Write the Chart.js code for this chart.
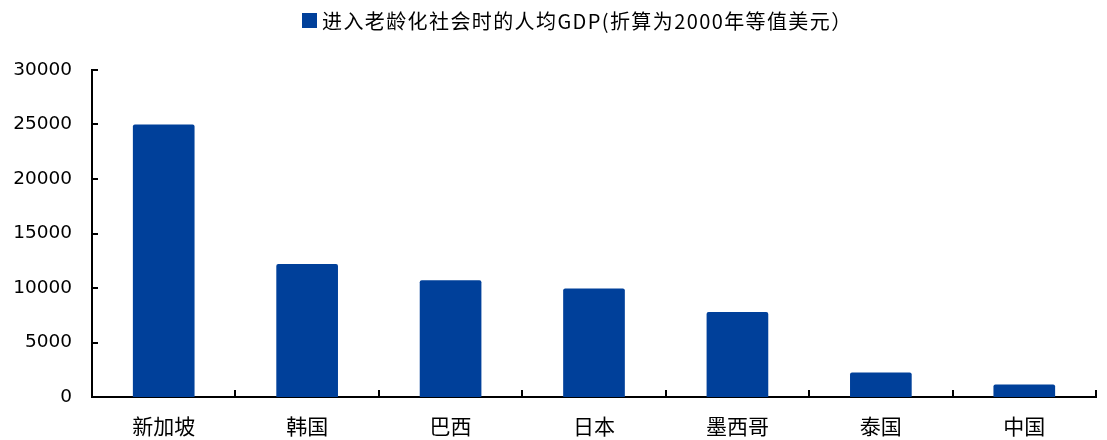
<!DOCTYPE html>
<html><head><meta charset="utf-8">
<script src="https://cdn.jsdelivr.net/npm/chart.js@4/dist/chart.umd.min.js"></script>
<style>
html,body{margin:0;padding:0;background:#fff;}
#wrap{width:1107px;height:440px;}
</style>
</head><body>
<div id="wrap"><canvas id="c"></canvas></div>
<script>
// Per-capita GDP when each country became an ageing society (constant 2000 USD)
const countries = ['新加坡', '韩国', '巴西', '日本', '墨西哥', '泰国', '中国'];
const gdpPerCapita = [25000, 12200, 10700, 9950, 7800, 2250, 1150];
const yTicks = [0, 5000, 10000, 15000, 20000, 25000, 30000];
const seriesName = '进入老龄化社会时的人均GDP(折算为2000年等值美元）';
const barColor = '#00409A';

// Short tick marks pointing into the plot, plus a hand-placed legend line
const innerTicks = {
  id: 'innerTicks',
  afterDraw(chart) {
    const ctx = chart.ctx;
    const a = chart.chartArea;
    const y = chart.scales.y;
    ctx.save();
    ctx.strokeStyle = '#000';
    ctx.lineWidth = 2;
    ctx.beginPath();
    y.ticks.forEach(t => {
      const py = Math.round(y.getPixelForValue(t.value));
      ctx.moveTo(a.left, py);
      ctx.lineTo(a.left + 6, py);
    });
    const n = countries.length;
    const w = (a.right - a.left) / n;
    for (let i = 1; i <= n; i++) {
      const px = Math.round(a.left + i * w);
      ctx.moveTo(px, a.bottom);
      ctx.lineTo(px, a.bottom - 7);
    }
    ctx.stroke();

    ctx.fillStyle = barColor;
    ctx.fillRect(302, 13, 15, 15);
    ctx.fillStyle = '#000';
    ctx.font = '20px "Noto Sans CJK SC"';
    ctx.letterSpacing = '1.4px';
    ctx.textBaseline = 'middle';
    ctx.textAlign = 'left';
    ctx.fillText(seriesName, 322, 21);
    ctx.restore();
  }
};

new Chart(document.getElementById('c'), {
  type: 'bar',
  data: {
    labels: countries,
    datasets: [{
      label: seriesName,
      data: gdpPerCapita,
      backgroundColor: barColor,
      borderRadius: 2,
      barPercentage: 0.43,
      categoryPercentage: 1.0
    }]
  },
  options: {
    responsive: true,
    maintainAspectRatio: false,
    animation: false,
    layout: { padding: { top: 70, right: 11, left: 0, bottom: 0 } },
    plugins: {
      legend: { display: false },
      tooltip: { enabled: false }
    },
    scales: {
      x: {
        grid: { display: false, drawTicks: false },
        border: { display: true, color: '#000', width: 2 },
        ticks: {
          color: '#000',
          padding: 16,
          font: { family: '"Noto Sans CJK SC"', size: 21 }
        },
        afterFit: s => { s.height = 43; }
      },
      y: {
        min: 0,
        max: 30000,
        grid: { display: false, drawTicks: false },
        border: { display: true, color: '#000', width: 2 },
        afterBuildTicks: s => { s.ticks = yTicks.map(v => ({ value: v })); },
        ticks: {
          color: '#000',
          padding: 20,
          font: { family: '"DejaVu Sans"', size: 18.5 },
          callback: v => String(v)
        },
        afterFit: s => { s.width = 92; }
      }
    }
  },
  plugins: [innerTicks]
});
</script>
</body></html>
